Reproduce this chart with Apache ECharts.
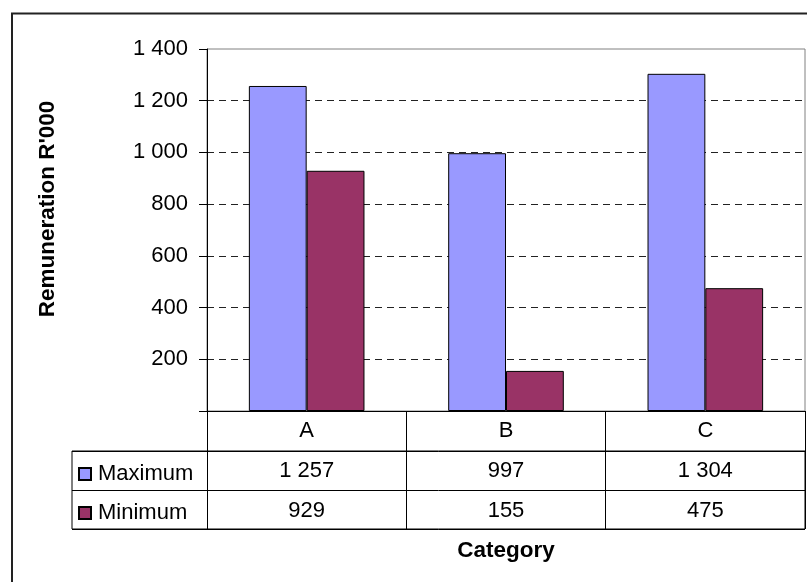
<!DOCTYPE html>
<html>
<head>
<meta charset="utf-8">
<style>
  html, body { margin: 0; padding: 0; background: #fff; }
  #chart { width: 807px; height: 582px; }
</style>
<script src="https://cdn.jsdelivr.net/npm/echarts@6/dist/echarts.min.js"></script>
</head>
<body>
<div id="chart"></div>
<script>
// Categories and series values
const categories = ['A', 'B', 'C'];
const maximum = [1257, 997, 1304];
const minimum = [929, 155, 475];
const seriesNames = ['Maximum', 'Minimum'];
const yTicks = { min: 0, max: 1400, step: 200 };

const FONT = 'Arial, "Liberation Sans", sans-serif';
const FS = 22;     // regular text
const FSB = 22.5;  // bold axis titles

// thousands separated by a space, e.g. 1 257
function fmt(v) {
  return String(v).replace(/\B(?=(\d{3})+(?!\d))/g, ' ');
}

const chart = echarts.init(document.getElementById('chart'), null, { renderer: 'canvas' });

const option = {
  backgroundColor: '#fff',
  animation: false,
  textStyle: { fontFamily: FONT, color: '#000' },
  grid: [
    // plot area
    { left: 207, right: 2, top: 49, bottom: 171, show: true, borderColor: '#808080', borderWidth: 1, backgroundColor: 'transparent' },
    // data table body (legend column + value rows)
    { left: 72, right: 2, top: 451, bottom: 53, show: true, borderColor: '#000', borderWidth: 1, backgroundColor: 'transparent' }
  ],
  legend: [
    {
      data: [seriesNames[0]], left: 78, top: 463, padding: 0, orient: 'vertical',
      icon: 'rect', itemWidth: 12, itemHeight: 12,
      textStyle: { fontFamily: FONT, fontSize: FS, color: '#000', padding: [0, 0, 0, 2] }
    },
    {
      data: [seriesNames[1]], left: 78, top: 502, padding: 0, orient: 'vertical',
      icon: 'rect', itemWidth: 12, itemHeight: 12,
      textStyle: { fontFamily: FONT, fontSize: FS, color: '#000', padding: [0, 0, 0, 2] }
    }
  ],
  xAxis: [
    {
      type: 'category',
      gridIndex: 0,
      data: categories,
      boundaryGap: true,
      axisLine: { show: true, lineStyle: { color: '#000', width: 1 } },
      axisTick: { show: true, interval: 0, alignWithLabel: false, length: 118, lineStyle: { color: '#000', width: 1 } },
      axisLabel: {
        interval: 0,
        margin: 0,
        formatter: function (value, idx) {
          return '{c|' + value + '}\n{v|' + fmt(maximum[idx]) + '}\n{v|' + fmt(minimum[idx]) + '}';
        },
        rich: {
          c: { fontFamily: FONT, fontSize: FS, color: '#000', lineHeight: 40 },
          v: { fontFamily: FONT, fontSize: FS, color: '#000', lineHeight: 40 }
        }
      },
      name: 'Category',
      nameLocation: 'middle',
      nameGap: 128,
      nameTextStyle: { fontFamily: FONT, fontSize: FSB, fontWeight: 'bold', color: '#000', verticalAlign: 'top' },
      splitLine: { show: false }
    },
    {
      type: 'value',
      gridIndex: 1,
      show: false
    }
  ],
  yAxis: [
    {
      type: 'value',
      gridIndex: 0,
      min: yTicks.min,
      max: yTicks.max,
      interval: yTicks.step,
      axisLine: { show: true, lineStyle: { color: '#000', width: 1 } },
      axisTick: { show: true, length: 8, lineStyle: { color: '#000', width: 1 } },
      axisLabel: {
        margin: 19,
        fontFamily: FONT, fontSize: FS, color: '#000',
        formatter: function (v) { return v === 0 ? '' : fmt(v); }
      },
      splitLine: {
        show: true,
        lineStyle: {
          color: ['#222', '#222', '#222', '#222', '#222', '#222', '#222', 'rgba(0,0,0,0)'],
          type: [7, 5],
          width: 1
        }
      },
      name: "Remuneration R'000",
      nameLocation: 'middle',
      nameGap: 148,
      nameRotate: 90,
      nameTextStyle: { fontFamily: FONT, fontSize: FSB, fontWeight: 'bold', color: '#000', padding: [0, 0, 0, 42] }
    },
    {
      // row separators of the data table
      type: 'value',
      gridIndex: 1,
      min: 0, max: 2, interval: 1,
      axisLine: { show: false },
      axisTick: { show: false },
      axisLabel: { show: false },
      splitLine: { show: true, lineStyle: { color: '#000', width: 1 } }
    }
  ],
  series: [
    {
      name: seriesNames[0],
      type: 'bar',
      xAxisIndex: 0, yAxisIndex: 0,
      data: maximum,
      barGap: '0%',
      barCategoryGap: '42%',
      itemStyle: { color: '#9999FF', borderColor: '#000', borderWidth: 1 }
    },
    {
      name: seriesNames[1],
      type: 'bar',
      xAxisIndex: 0, yAxisIndex: 0,
      data: minimum,
      barGap: '0%',
      barCategoryGap: '42%',
      itemStyle: { color: '#993366', borderColor: '#000', borderWidth: 1 }
    }
  ],
  graphic: [
    {
      // outer chart frame
      type: 'rect',
      silent: true,
      z: -10,
      shape: { x: 12, y: 13.5, width: 900, height: 700 },
      style: { fill: 'transparent', stroke: '#222', lineWidth: 2 }
    }
  ]
};

chart.setOption(option);
</script>
</body>
</html>
